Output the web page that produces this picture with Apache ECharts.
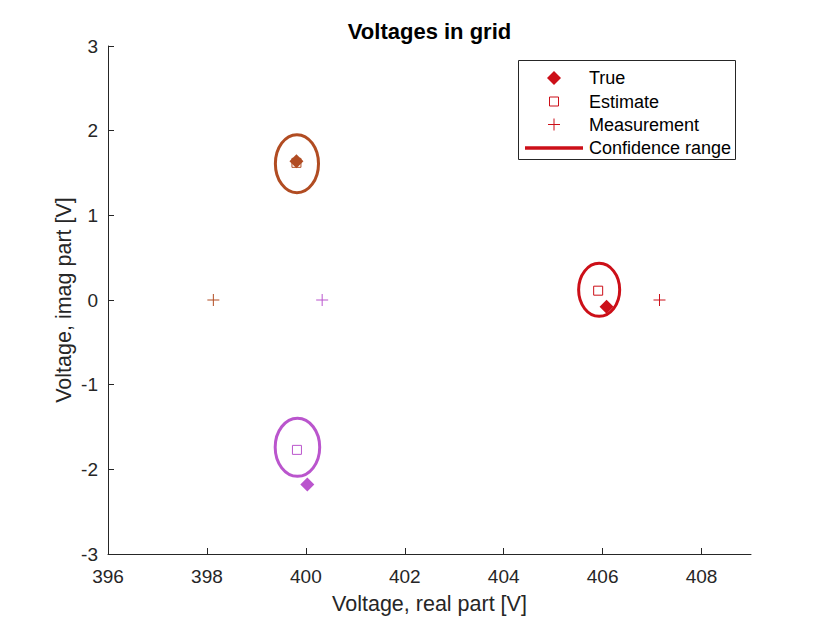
<!DOCTYPE html>
<html>
<head>
<meta charset="utf-8">
<script src="https://cdn.jsdelivr.net/npm/echarts@6/dist/echarts.min.js"></script>
<style>html,body{margin:0;padding:0;background:#fff}#c{width:830px;height:623px}</style>
</head>
<body>
<div id="c"></div>
<script>
// ---- data ----
const busColors = ['#b14c22', '#cc0f18', '#ba55cd'];
const trueX = [399.81, 406.08, 400.03];
const trueY = [1.64, -0.08, -2.18];
const estX = [399.81, 405.91, 399.82];
const estY = [1.62, 0.11, -1.77];
const measX = [398.13, 407.15, 400.33];
const measY = [0, 0, 0];
const confCx = [399.82, 405.93, 399.83];
const confCy = [1.61, 0.12, -1.74];
const confRx = [0.436, 0.415, 0.45];
const confRy = [0.343, 0.313, 0.343];
const xTicks = [396, 398, 400, 402, 404, 406, 408];
const yTicks = [-3, -2, -1, 0, 1, 2, 3];
const legendNames = ['True', 'Estimate', 'Measurement', 'Confidence range'];

const FONT = '"Liberation Sans", Arial, Helvetica, sans-serif';
const AX = '#262626';
const legendColor = '#cc0f18';
const plusPath = 'path://M5,0L5,10M0,5L10,5';

const chart = echarts.init(document.getElementById('c'), null, {renderer: 'svg'});

const series = [];
for (let i = 0; i < busColors.length; i++) {
  const col = busColors[i];
  series.push({
    type: 'custom',
    name: 'Confidence range',
    z: 2,
    data: [[confCx[i], confCy[i], confRx[i], confRy[i]]],
    renderItem: function (params, api) {
      const c = api.coord([api.value(0), api.value(1)]);
      const s = api.size([api.value(2), api.value(3)]);
      return {
        type: 'ellipse',
        shape: {cx: c[0], cy: c[1], rx: s[0], ry: s[1]},
        style: {fill: null, stroke: col, lineWidth: 3}
      };
    },
    silent: true
  });
  series.push({
    type: 'scatter', name: 'Estimate', z: 3,
    symbol: 'rect', symbolSize: 9,
    itemStyle: {color: 'rgba(0,0,0,0)', borderColor: col, borderWidth: 1, opacity: 1},
    data: [[estX[i], estY[i]]]
  });
  series.push({
    type: 'scatter', name: 'True', z: 4,
    symbol: 'diamond', symbolSize: 14,
    itemStyle: {color: col, opacity: 1},
    data: [[trueX[i], trueY[i]]]
  });
  series.push({
    type: 'scatter', name: 'Measurement', z: 3,
    symbol: plusPath, symbolSize: 12,
    itemStyle: {color: 'rgba(0,0,0,0)', borderColor: col, borderWidth: 1, opacity: 1},
    data: [[measX[i], measY[i]]]
  });
}

// legend drawn as graphic (box + symbols + real text)
const LX = 518.5, LY = 60.5, LW = 217, LH = 99;
const rowY = [78, 101.5, 124.5, 148];
const symX = 554, txtX = 589;
const legendEls = [
  {type: 'rect', shape: {x: LX, y: LY, width: LW, height: LH}, style: {fill: '#fff', stroke: AX, lineWidth: 1}},
  {type: 'polygon', shape: {points: [[symX, rowY[0] - 7], [symX + 7, rowY[0]], [symX, rowY[0] + 7], [symX - 7, rowY[0]]]}, style: {fill: legendColor}},
  {type: 'rect', shape: {x: symX - 4.5, y: rowY[1] - 4.5, width: 9, height: 9}, style: {fill: null, stroke: legendColor, lineWidth: 1}},
  {type: 'line', shape: {x1: symX - 6, y1: rowY[2], x2: symX + 6, y2: rowY[2]}, style: {stroke: legendColor, lineWidth: 1}},
  {type: 'line', shape: {x1: symX, y1: rowY[2] - 6, x2: symX, y2: rowY[2] + 6}, style: {stroke: legendColor, lineWidth: 1}},
  {type: 'line', shape: {x1: 525, y1: rowY[3], x2: 583, y2: rowY[3]}, style: {stroke: legendColor, lineWidth: 3.5}}
];
legendNames.forEach(function (n, k) {
  legendEls.push({type: 'text', x: txtX, y: rowY[k], style: {text: n, fill: '#000', font: '18px ' + FONT, textAlign: 'left', textVerticalAlign: 'middle'}});
});

chart.setOption({
  animation: false,
  backgroundColor: '#fff',
  title: {
    text: 'Voltages in grid',
    left: 429.5, top: 20, padding: 0,
    textAlign: 'center',
    textStyle: {fontFamily: FONT, fontSize: 22, fontWeight: 'bold', color: '#000'}
  },
  grid: {left: 108, right: 79, top: 46, bottom: 69, containLabel: false},
  xAxis: {
    type: 'value', min: 396, max: 409, interval: 2,
    name: 'Voltage, real part [V]', nameLocation: 'middle', nameGap: 39,
    nameMoveOverlap: false,
    nameTextStyle: {fontFamily: FONT, fontSize: 21.5, color: AX},
    axisLine: {show: true, onZero: false, lineStyle: {color: AX, width: 1}},
    axisTick: {show: true, inside: true, length: 6, lineStyle: {color: AX}, customValues: xTicks},
    axisLabel: {fontFamily: FONT, fontSize: 19, color: AX, margin: 13, customValues: xTicks},
    splitLine: {show: false}
  },
  yAxis: {
    type: 'value', min: -3, max: 3, interval: 1,
    name: 'Voltage, imag part [V]', nameLocation: 'middle', nameGap: 33, nameRotate: 90,
    nameMoveOverlap: false,
    nameTextStyle: {fontFamily: FONT, fontSize: 21.5, color: AX},
    axisLine: {show: true, onZero: false, lineStyle: {color: AX, width: 1}},
    axisTick: {show: true, inside: true, length: 6, lineStyle: {color: AX}, customValues: yTicks},
    axisLabel: {fontFamily: FONT, fontSize: 19, color: AX, margin: 10, customValues: yTicks},
    splitLine: {show: false}
  },
  series: series,
  graphic: [{type: 'group', z: 100, children: legendEls}]
});
</script>
</body>
</html>
